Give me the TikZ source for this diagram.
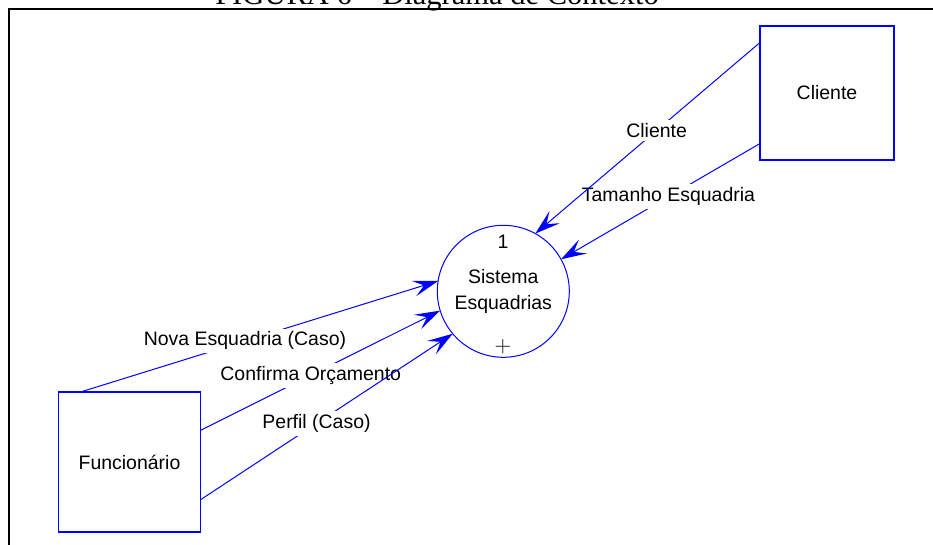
\documentclass[tikz,border=0pt]{standalone}
\usepackage{fontspec}
\setmainfont{Liberation Sans}
\newfontfamily\titlefont{Liberation Serif}
\usetikzlibrary{arrows.meta}

\tikzset{
  entity/.style={draw=blue, line width=0.9pt, outer sep=0pt, inner sep=0pt,
    minimum width=100.5pt, minimum height=100.5pt},
  process/.style={circle, draw=blue, line width=0.75pt, outer sep=0pt, inner sep=0pt,
    minimum size=99pt, align=center, font=\fontsize{14.6}{19.5}\selectfont},
  flowtip/.tip={Stealth[length=19pt,width=12pt,inset=8pt]},
  flow/.style={draw=blue, line width=0.75pt, -flowtip},
  flowlabel/.style={fill=white, inner sep=2.5pt, pos=0.46}
}

\begin{document}
\begin{tikzpicture}[x=0.75pt, y=-0.75pt, font=\fontsize{14.6}{17}\selectfont]
    \useasboundingbox (0,0) rectangle (933,544);
    \clip (0,0) rectangle (933,544);

    % frame and title
    \draw[line width=1.5pt] (9,560) -- (9,9) -- (950,9);
    \node[anchor=base west, inner sep=0pt, font=\titlefont\fontsize{22.9}{26}\selectfont] (title) at (215,4) {FIGURA 6 – Diagrama de Contexto};

    % entities
    \node[entity] (cliente) at (827,93) {Cliente};
    \node[entity, minimum width=106.5pt, minimum height=105pt] (func) at (129.5,462) {Funcionário};

    % process
    \node[process] (sistema) at (503.3,291.3) {Sistema\\Esquadrias};
    \node (num) at (503,242) {1};
    \node[font=\fontsize{17}{20}\selectfont] (plus) at (503,346.7) {$+$};

    % flows
    \draw[flow] (cliente.217.3) -- (sistema.29.7) node[flowlabel] {Tamanho Esquadria};
    \draw[flow] (cliente.143.3) -- (sistema.61.5) node[flowlabel] {Cliente};
    \draw[flow] (func.125.3) -- (sistema.171.6) node[flowlabel] {Nova Esquadria (Caso)};
    \draw[flow] (func.24.8) -- (sistema.197.4) node[flowlabel] {Confirma Orçamento};
    \draw[flow] (func.332.5) -- (sistema.220.5) node[flowlabel] {Perfil (Caso)};
\end{tikzpicture}
\end{document}
